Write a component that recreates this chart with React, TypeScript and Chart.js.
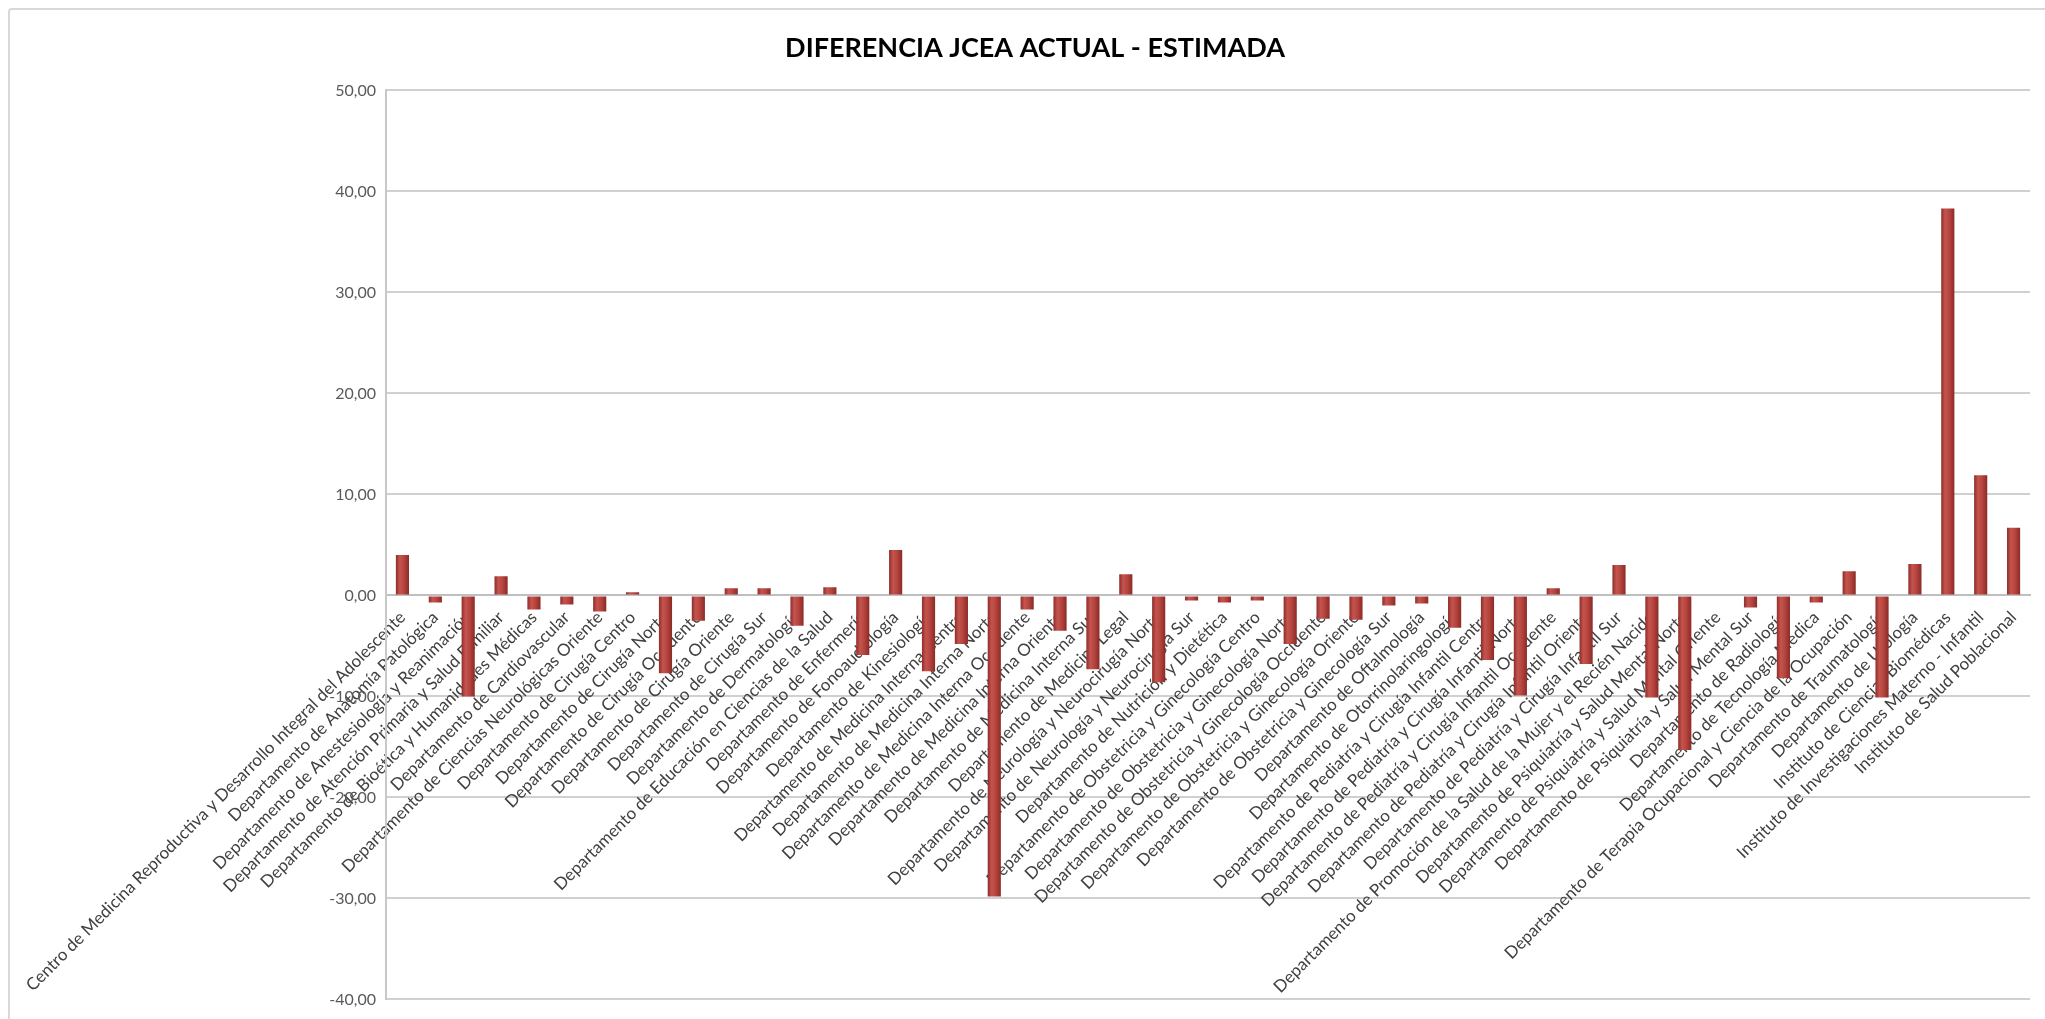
import React, { useEffect, useRef } from "react";
import { Chart, registerables } from "chart.js";

Chart.register(...registerables);

const chartTitle = "DIFERENCIA JCEA ACTUAL - ESTIMADA";

const categories: string[] = [
  "Centro de Medicina Reproductiva y Desarrollo Integral del Adolescente",
  "Departamento de Anatomía Patológica",
  "Departamento de Anestesiología y Reanimación",
  "Departamento de Atención Primaria y Salud Familiar",
  "Departamento de Bioética y Humanidades Médicas",
  "Departamento de Cardiovascular",
  "Departamento de Ciencias Neurológicas Oriente",
  "Departamento de Cirugía Centro",
  "Departamento de Cirugía Norte",
  "Departamento de Cirugía Occidente",
  "Departamento de Cirugía Oriente",
  "Departamento de Cirugía Sur",
  "Departamento de Dermatología",
  "Departamento de Educación en Ciencias de la Salud",
  "Departamento de Enfermería",
  "Departamento de Fonoaudiología",
  "Departamento de Kinesiología",
  "Departamento de Medicina Interna Centro",
  "Departamento de Medicina Interna Norte",
  "Departamento de Medicina Interna Occidente",
  "Departamento de Medicina Interna Oriente",
  "Departamento de Medicina Interna Sur",
  "Departamento de Medicina Legal",
  "Departamento de Neurología y Neurocirugía Norte",
  "Departamento de Neurología y Neurocirugía Sur",
  "Departamento de Nutrición y Dietética",
  "Departamento de Obstetricia y Ginecología Centro",
  "Departamento de Obstetricia y Ginecología Norte",
  "Departamento de Obstetricia y Ginecología Occidente",
  "Departamento de Obstetricia y Ginecología Oriente",
  "Departamento de Obstetricia y Ginecología Sur",
  "Departamento de Oftalmología",
  "Departamento de Otorrinolaringología",
  "Departamento de Pediatría y Cirugía Infantil Centro",
  "Departamento de Pediatría y Cirugía Infantil Norte",
  "Departamento de Pediatría y Cirugía Infantil Occidente",
  "Departamento de Pediatría y Cirugía Infantil Oriente",
  "Departamento de Pediatría y Cirugía Infantil Sur",
  "Departamento de Promoción de la Salud de la Mujer y el Recién Nacido",
  "Departamento de Psiquiatría y Salud Mental Norte",
  "Departamento de Psiquiatría y Salud Mental Oriente",
  "Departamento de Psiquiatría y Salud Mental Sur",
  "Departamento de Radiología",
  "Departamento de Tecnología Médica",
  "Departamento de Terapia Ocupacional y Ciencia de la Ocupación",
  "Departamento de Traumatología",
  "Departamento de Urología",
  "Instituto de Ciencias Biomédicas",
  "Instituto de Investigaciones Materno - Infantil",
  "Instituto de Salud Poblacional",
];

const diferencia: number[] = [
  4.0, -0.7, -10.0, 1.9, -1.4, -0.9, -1.6, 0.3, -7.7, -2.5,
  0.7, 0.7, -3.0, 0.8, -5.9, 4.5, -7.5, -4.8, -29.8, -1.4,
  -3.5, -7.3, 2.1, -8.6, -0.5, -0.7, -0.5, -4.8, -2.3, -2.4,
  -1.0, -0.8, -3.2, -6.4, -9.9, 0.7, -6.8, 3.0, -10.1, -15.3,
  -0.1, -1.2, -8.2, -0.7, 2.4, -10.1, 3.1, 38.3, 11.9, 6.7,
];

const yMin = -40;
const yMax = 50;
const yStep = 10;

const BAR_PCT = 0.4;

export default function App() {
  const canvasRef = useRef<HTMLCanvasElement | null>(null);

  useEffect(() => {
    if (!canvasRef.current) return;
    const chart = new Chart(canvasRef.current, {
      type: "bar",
      data: {
        labels: categories,
        datasets: [
          {
            label: "Diferencia",
            data: diferencia,
            categoryPercentage: 1,
            barPercentage: BAR_PCT,
            borderWidth: 0,
            backgroundColor: (ctx: any) => {
              const ch = ctx.chart;
              const xs = ch.scales && ch.scales.x;
              if (!xs || ctx.type !== "data") return "#B5433F";
              const cx = xs.getPixelForTick(ctx.dataIndex);
              const w = (xs.width / categories.length) * BAR_PCT;
              if (!isFinite(cx) || !isFinite(w) || w <= 0) return "#B5433F";
              const g = ch.ctx.createLinearGradient(cx - w / 2, 0, cx + w / 2, 0);
              g.addColorStop(0, "#8E2D2A");
              g.addColorStop(0.3, "#C4544F");
              g.addColorStop(0.6, "#B7453F");
              g.addColorStop(1, "#8A2A27");
              return g;
            },
          },
        ],
      },
      options: {
        animation: false,
        responsive: true,
        maintainAspectRatio: false,
        layout: { padding: { left: 40, right: 15, top: 22, bottom: 19 } },
        plugins: {
          legend: { display: false },
          tooltip: { enabled: false },
          title: {
            display: true,
            text: chartTitle,
            color: "#000000",
            font: { family: "Lato", size: 27, weight: "bold" },
            padding: { top: 10, bottom: 26 },
          },
        },
        scales: {
          x: {
            type: "category",
            position: { y: 0 } as any,
            grid: { display: false, drawTicks: false },
            border: { display: true, color: "#BFBFBF", width: 2 },
            ticks: {
              autoSkip: false,
              maxRotation: 45,
              minRotation: 45,
              padding: 12,
              color: "#404040",
              font: { family: "Lato", size: 17 },
            },
            afterFit: (scale: any) => {
              scale.paddingLeft = 0;
              scale.paddingRight = 0;
            },
          },
          y: {
            min: yMin,
            max: yMax,
            grid: { color: "#D0D0D0", lineWidth: 2, drawTicks: false },
            border: { display: true, color: "#C8C8C8", width: 2 },
            ticks: {
              stepSize: yStep,
              padding: 10,
              color: "#595959",
              font: { family: "Lato", size: 16 },
              callback: (v: any) => Number(v).toFixed(2).replace(".", ","),
            },
            afterFit: (scale: any) => {
              scale.width = 346;
            },
          },
        },
      },
    });
    return () => chart.destroy();
  }, []);

  return (
    <div
      style={{
        position: "fixed",
        left: 0,
        top: 0,
        width: 2045,
        height: 1019,
        overflow: "hidden",
        background: "#ffffff",
      }}
    >
      <div
        style={{
          position: "absolute",
          left: 8,
          top: 8,
          width: 2100,
          height: 1100,
          border: "2px solid #D9D9D9",
          borderRadius: 4,
          boxSizing: "border-box",
        }}
      />
      <div style={{ position: "absolute", left: 0, top: 0, width: 2045, height: 1019 }}>
        <canvas ref={canvasRef} />
      </div>
    </div>
  );
}
